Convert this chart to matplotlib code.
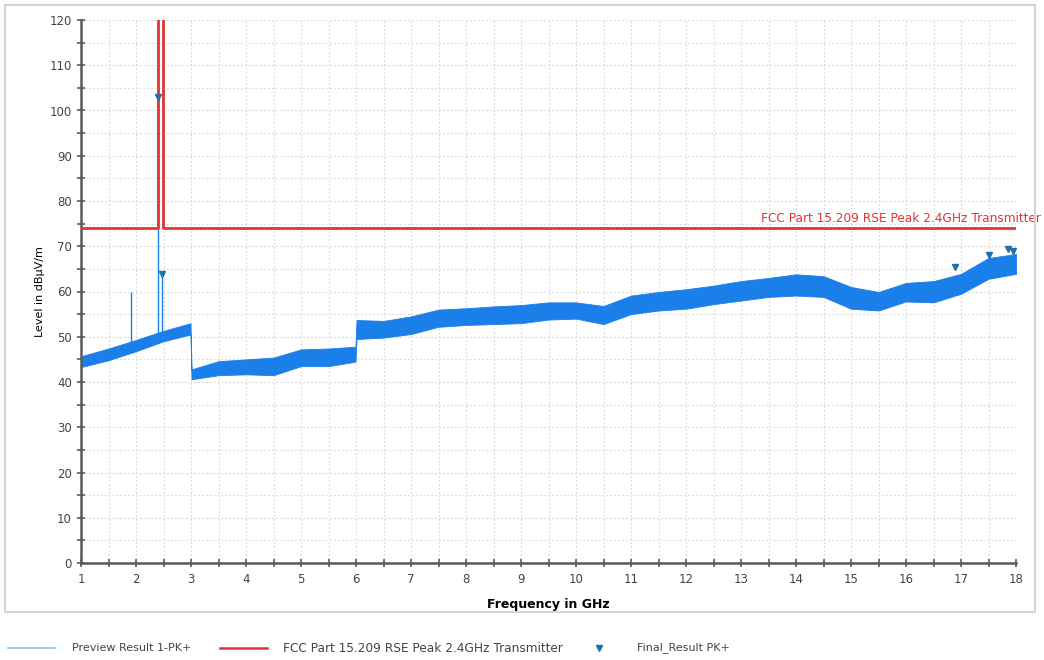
import matplotlib
matplotlib.use("Agg")
import matplotlib.pyplot as plt
from matplotlib.lines import Line2D
from matplotlib.patches import Rectangle
import numpy as np

# --- data ---
# envelope of the preview scan (GHz, dBuV/m)
scan_freq = [1.0, 1.5, 2.0, 2.5, 2.99, 3.01, 3.5, 4.0, 4.5, 5.0, 5.5, 5.99, 6.01,
             6.5, 7.0, 7.5, 8.0, 8.5, 9.0, 9.5, 10.0, 10.5, 11.0, 11.5, 12.0,
             12.5, 13.0, 13.5, 14.0, 14.5, 15.0, 15.5, 16.0, 16.5, 17.0, 17.5, 18.0]
scan_low = [43.3, 44.8, 46.8, 49.0, 50.5, 40.6, 41.5, 41.7, 41.5, 43.5, 43.5, 44.5, 49.5,
            49.8, 50.6, 52.2, 52.6, 52.8, 53.0, 53.8, 54.0, 52.8, 55.0, 55.8, 56.2,
            57.2, 58.0, 58.8, 59.1, 58.8, 56.2, 55.8, 57.8, 57.6, 59.5, 62.8, 63.9]
scan_high = [45.7, 47.4, 49.3, 51.3, 53.0, 42.8, 44.6, 45.0, 45.4, 47.2, 47.4, 47.8, 53.7,
             53.5, 54.5, 56.0, 56.3, 56.7, 57.0, 57.6, 57.6, 56.8, 59.1, 59.9, 60.5,
             61.3, 62.3, 63.0, 63.8, 63.4, 61.0, 59.9, 61.9, 62.3, 63.9, 67.4, 68.3]

# narrow spurs standing out of the scan
spur_freq = [1.9, 2.405, 2.465]
spur_base = [47.5, 49.5, 50.0]
spur_top = [60.0, 103.0, 64.0]

# limit line (restricted band opening around 2.4 GHz)
limit_freq = [1.0, 2.4, 2.4, 2.4835, 2.4835, 18.0]
limit_level = [74, 74, 130, 130, 74, 74]

# final peak results
final_freq = [2.405, 2.465, 16.89, 17.5, 17.86, 17.95]
final_level = [103.0, 63.9, 65.5, 68.1, 69.5, 69.0]

limit_name = "FCC Part 15.209 RSE Peak 2.4GHz Transmitter"

scan_col = "#1a7fe8"
limit_col = "#e03535"
mark_col = "#1f6fa8"

fig = plt.figure(figsize=(10.44, 6.6), dpi=100)
fig.patches.append(Rectangle((5 / 1044, 1 - 612 / 660), 1030 / 1044, 607 / 660,
                             transform=fig.transFigure, fill=False,
                             edgecolor="#d4d4d4", linewidth=1.5))
ax = fig.add_axes([81 / 1044, 1 - 563 / 660, 935 / 1044, 543 / 660])

ax.fill_between(scan_freq, scan_low, scan_high, color=scan_col, linewidth=0.6,
                edgecolor=scan_col, zorder=2)
ax.vlines(spur_freq, spur_base, spur_top, color=scan_col, linewidth=1.0, zorder=2)
ax.plot(limit_freq, limit_level, color=limit_col, linewidth=2, zorder=3)
ax.plot(final_freq, final_level, linestyle="none", marker="v", markersize=5,
        color=mark_col, zorder=4)

ax.text(18.45, 74.6, limit_name, color=limit_col, fontsize=8.7, ha="right",
        va="bottom", clip_on=False)

ax.set_xlim(1, 18)
ax.set_ylim(0, 120)
ax.set_xticks(np.arange(1, 19, 1))
ax.set_xticks(np.arange(1.5, 18, 1), minor=True)
ax.set_yticks(np.arange(0, 121, 10))
ax.set_yticks(np.arange(5, 120, 10), minor=True)
ax.grid(True, which="both", color="#d6d6d6", linestyle=(0, (1.5, 2)), linewidth=0.8)
ax.set_axisbelow(True)

for s in ["top", "right"]:
    ax.spines[s].set_visible(False)
for s in ["left", "bottom"]:
    ax.spines[s].set_color("#5a5a5a")
    ax.spines[s].set_linewidth(1.8)
ax.tick_params(which="both", direction="inout", length=6, width=1.2,
               color="#5a5a5a", labelsize=8.5, labelcolor="#444444")
ax.tick_params(axis="x", pad=4)

ax.set_xlabel("Frequency in GHz", fontsize=9, fontweight="bold", labelpad=9)
ax.set_ylabel("Level in dB\u00b5V/m", fontsize=8, labelpad=3)

# legend under the frame
ly = 1 - 648 / 660
fig.add_artist(Line2D([8 / 1044, 55 / 1044], [ly, ly], color="#9cc8f0", linewidth=1.3))
fig.text(72 / 1044, ly, "Preview Result 1-PK+", fontsize=8, va="center", color="#444444")
fig.add_artist(Line2D([220 / 1044, 267 / 1044], [ly, ly], color=limit_col, linewidth=1.8))
fig.text(283 / 1044, ly, limit_name, fontsize=8.7, va="center", color="#444444")
fig.add_artist(Line2D([599 / 1044], [ly], marker="v", markersize=5, color=mark_col,
                      linestyle="none"))
fig.text(637 / 1044, ly, "Final_Result PK+", fontsize=8, va="center", color="#444444")

fig.savefig("out.png", dpi=100)
